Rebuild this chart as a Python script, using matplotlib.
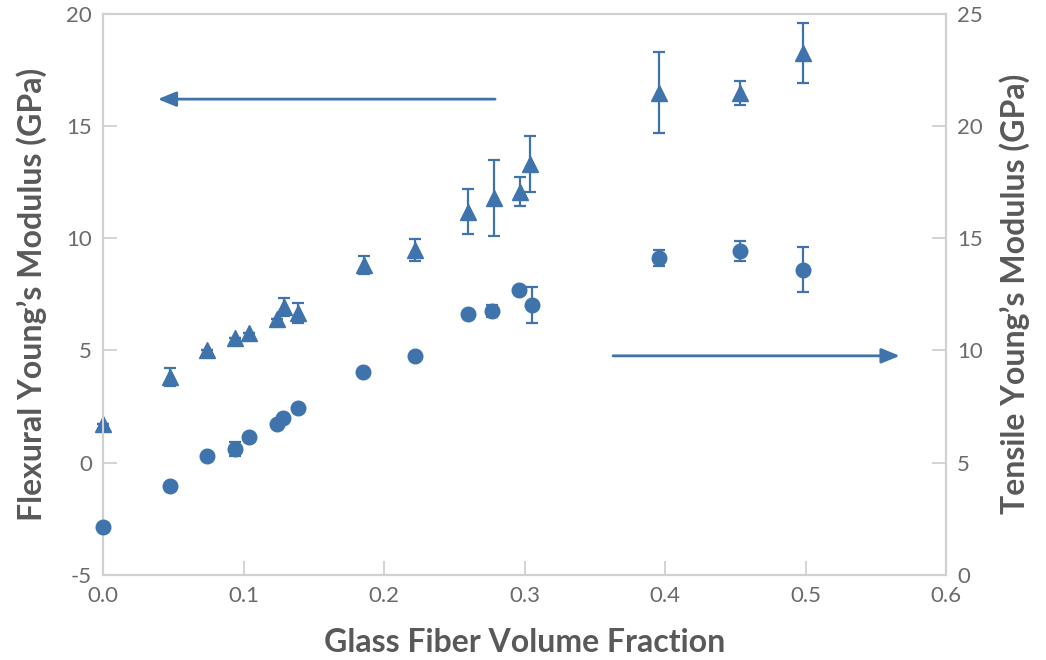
import numpy as np
import matplotlib
matplotlib.use("Agg")
import matplotlib.pyplot as plt

plt.rcParams["axes.unicode_minus"] = False

blue = "#3E73AB"
grey = "#595959"
spine = "#D0D0D0"

# flexural modulus (left axis), triangles
flex_x = [0.0, 0.048, 0.074, 0.094, 0.104, 0.124, 0.129, 0.139, 0.186, 0.222,
          0.260, 0.278, 0.297, 0.304, 0.396, 0.453, 0.498]
flex_y = [1.73, 3.82, 5.0, 5.56, 5.78, 6.41, 6.94, 6.68, 8.81, 9.48,
          11.18, 11.8, 12.07, 13.3, 16.48, 16.48, 18.26]
flex_err = [0.0, 0.4, 0.0, 0.0, 0.0, 0.0, 0.4, 0.45, 0.4, 0.5,
            1.0, 1.7, 0.65, 1.25, 1.8, 0.55, 1.35]

# tensile modulus (right axis), circles
ten_x = [0.0, 0.048, 0.074, 0.094, 0.104, 0.124, 0.128, 0.139, 0.185, 0.222,
         0.260, 0.277, 0.296, 0.305, 0.396, 0.453, 0.498]
ten_y = [2.14, 3.97, 5.30, 5.61, 6.15, 6.73, 7.0, 7.44, 9.05, 9.76,
         11.63, 11.76, 12.7, 12.03, 14.13, 14.44, 13.59]
ten_err = [0.0, 0.0, 0.0, 0.3, 0.0, 0.0, 0.0, 0.0, 0.0, 0.0,
           0.0, 0.25, 0.0, 0.8, 0.35, 0.45, 1.0]

fig, ax = plt.subplots(figsize=(10.46, 6.6), dpi=100)
fig.subplots_adjust(left=0.0985, right=0.9045, top=0.979, bottom=0.129)
ax2 = ax.twinx()

ax.errorbar(flex_x, flex_y, yerr=flex_err, fmt="^", color=blue, ms=11,
            elinewidth=1.6, capsize=4, capthick=1.6, clip_on=False, zorder=3)
ax2.errorbar(ten_x, ten_y, yerr=ten_err, fmt="o", color=blue, ms=10.5,
             elinewidth=1.6, capsize=4, capthick=1.6, clip_on=False, zorder=3)

ax.set_xlim(0, 0.6)
ax.set_ylim(-5, 20)
ax2.set_ylim(0, 25)
ax.set_xticks(np.arange(0, 0.61, 0.1))
ax.set_yticks(np.arange(-5, 21, 5))
ax2.set_yticks(np.arange(0, 26, 5))
ax.xaxis.set_major_formatter(matplotlib.ticker.FormatStrFormatter("%.1f"))

for a in (ax, ax2):
    for s in a.spines.values():
        s.set_color(spine)
        s.set_linewidth(1.5)
    a.tick_params(direction="in", length=10, width=1.3, color=spine,
                  labelcolor="#6a6a6a", labelsize=16, pad=8)
for lab in ax.get_xticklabels() + ax.get_yticklabels() + ax2.get_yticklabels():
    lab.set_fontfamily("Lato")

lab_font = dict(family="Lato", weight="bold", size=23, color=grey)
ax.set_xlabel("Glass Fiber Volume Fraction", labelpad=16, **lab_font)
ax.set_ylabel("Flexural Young\u2019s Modulus (GPa)", labelpad=14, **lab_font)
ax2.set_ylabel("Tensile Young\u2019s Modulus (GPa)", labelpad=12, **lab_font)

arrow = dict(arrowstyle="-|>,head_length=1.1,head_width=0.45", color=blue, lw=2)
ax.annotate("", xy=(0.037, 16.2), xytext=(0.281, 16.2), arrowprops=arrow)
ax2.annotate("", xy=(0.569, 9.76), xytext=(0.361, 9.76), arrowprops=arrow)

fig.savefig("out.png", dpi=100)
